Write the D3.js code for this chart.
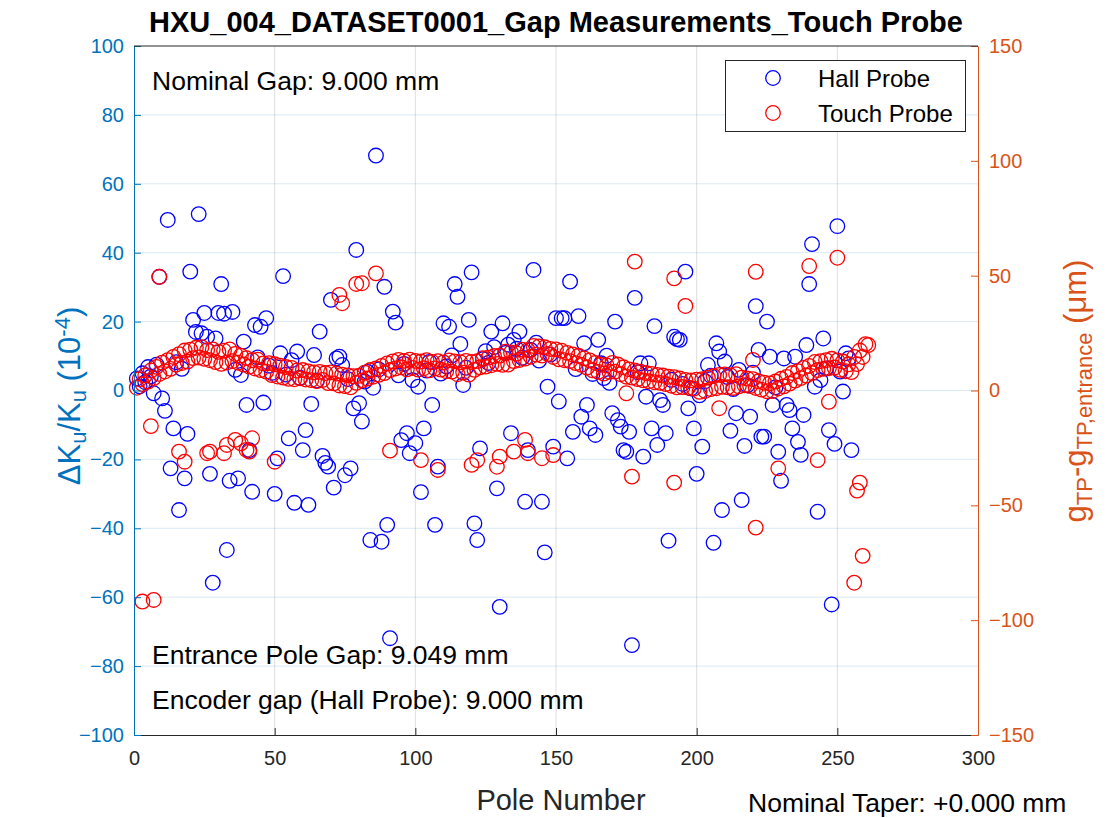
<!DOCTYPE html>
<html>
<head>
<meta charset="utf-8">
<script src="https://cdn.jsdelivr.net/npm/d3@7"></script>
<style>
  body { margin: 0; background: #fff; }
  svg { display: block; }
  text { font-family: "Liberation Sans", Arial, Helvetica, sans-serif; }
</style>
</head>
<body>
<svg id="chart" width="1110" height="818"></svg>
<script>
// Hall probe: ΔKu/Ku (1e-4) for poles 1..255 (index + 1 = pole number)
const hallDK = [
  3.5, 1.2, 5.0, 2.4, 6.8, 4.1, -0.8, 7.5, 33.0, -2.3,
  -5.9, 49.5, -22.6, -11.0, 8.2, -34.7, 6.3, -25.5, -12.6, 34.5,
  20.5, 17.0, 51.2, 16.6, 22.5, 15.6, -24.2, -55.8, 15.1, 22.5,
  30.9, 22.3, -46.3, -26.2, 22.8, 6.0, -25.5, 4.5, 14.2, -4.2,
  -17.3, -29.4, 19.0, 9.6, 18.5, -3.5, 21.0, 7.2, 5.1, -30.0,
  -19.7, 10.8, 33.2, 4.6, -13.9, 8.8, -32.6, 11.3, 3.7, -17.3,
  -11.5, -33.2, -3.9, 10.3, 2.9, 17.1, -19.0, -21.0, -22.1, 26.3,
  -28.2, 9.3, 9.8, 7.4, -24.6, 3.3, -22.6, -5.2, 40.8, -3.7,
  -9.0, 2.6, 5.4, -43.4, 0.8, 68.2, 6.1, -43.9, 30.1, -39.0,
  -71.9, 22.9, 19.7, 4.4, -14.4, 7.7, -12.4, -18.2, 3.0, -15.3,
  1.1, -29.5, -11.0, 5.8, 8.3, -4.2, -39.0, -22.1, 4.9, 19.5,
  7.0, 18.5, 10.2, 30.9, 27.2, 13.5, 1.6, 6.6, 20.5, 34.3,
  -38.6, -43.4, -16.8, 9.1, 11.4, 8.0, 17.1, 12.6, -28.4, -62.8,
  19.5, 10.9, 13.3, -12.4, 14.7, 12.1, 17.1, 9.5, -32.3, -17.3,
  11.8, 35.0, 13.9, 8.7, -32.3, -47.0, 1.1, 10.4, -16.3, 21.0,
  -3.2, 21.0, 21.0, -19.7, 31.6, -12.0, 6.2, 21.6, -7.6, 13.7,
  -4.2, -11.0, 4.8, -12.9, 14.7, 7.9, 3.6, 10.1, 2.2, -6.6,
  20.0, -8.6, -10.5, -17.3, -17.8, -12.0, -73.9, 26.9, 5.3, 7.9,
  -19.2, -1.8, 7.9, -11.0, 18.7, -15.8, -2.8, -4.2, -12.4, -43.6,
  3.1, 15.6, 14.9, 14.7, 1.9, 34.5, -5.2, 0.6, -11.0, -24.2,
  -1.4, -16.3, 2.7, 7.4, 4.3, -44.2, 13.7, 11.3, -34.7, 8.4,
  3.9, -11.7, 0.4, -6.6, 6.0, -31.8, -16.1, 1.5, -7.6, 5.2,
  24.5, 11.8, -13.4, -13.4, 20.0, 9.8, -4.2, 0.9, -17.8, -26.2,
  9.3, -4.2, -5.7, -11.0, 9.8, -14.9, -18.7, -7.1, 13.2, 30.9,
  42.5, 1.1, -35.2, 3.0, 15.1, 6.4, -11.5, -62.1, -15.5, 47.7,
  5.5, -0.3, 10.8, 9.3, -17.3
];

// Touch probe: g_TP - g_TP,entrance (µm) for poles 1..261 (index + 1 = pole number)
const touchGap = [
  1.2, 4.9, 2.8, 6.6, 3.9, 8.7, 5.4, 10.3, 7.2, 12.1,
  8.3, 13.2, 9.4, 14.6, 11.3, 15.8, 12.0, 17.4, 12.6, 17.8,
  14.1, 18.6, 14.4, 18.9, 13.8, 17.6, 13.2, 17.9, 12.4, 16.8,
  11.6, 17.3, 12.2, 17.9, 12.8, 15.9, 12.1, 15.2, 11.3, 14.1,
  10.4, 13.2, 9.6, 13.4, 8.9, 11.8, 8.2, 11.9, 6.7, 11.4,
  6.1, 10.8, 5.6, 10.2, 5.1, 9.8, 4.9, 8.7, 5.3, 8.9,
  4.8, 8.3, 4.5, 7.9, 4.1, 8.1, 4.6, 7.6, 3.2, 7.9,
  3.1, 7.4, 2.2, 6.9, 1.9, 6.6, 1.4, 6.2, 3.3, 6.4,
  4.4, 7.8, 5.2, 8.9, 6.0, 9.6, 6.8, 10.7, 7.6, 11.8,
  8.9, 12.7, 9.6, 13.3, 10.1, 12.9, 9.2, 13.4, 9.8, 12.9,
  9.1, 12.6, 9.7, 13.2, 8.8, 12.4, 9.6, 12.8, 9.1, 12.2,
  8.4, 13.1, 8.2, 12.7, 7.1, 12.3, 7.8, 12.9, 6.9, 12.4,
  9.0, 12.8, 10.1, 14.1, 10.4, 14.3, 11.0, 15.0, 11.6, 15.2,
  11.2, 16.9, 11.3, 16.6, 12.8, 16.1, 13.3, 17.8, 13.9, 17.6,
  14.7, 19.4, 15.6, 19.2, 15.2, 18.8, 15.9, 18.1, 14.6, 17.9,
  13.6, 17.3, 13.2, 16.4, 12.8, 15.7, 11.9, 15.1, 11.2, 14.0,
  10.0, 13.1, 8.8, 12.0, 8.1, 11.2, 7.4, 10.9, 8.1, 12.0,
  8.2, 11.3, 7.1, 10.1, 6.0, 9.2, 5.6, 8.7, 5.0, 8.2,
  4.4, 7.6, 4.0, 7.2, 3.6, 6.8, 3.3, 6.5, 2.8, 6.0,
  2.1, 5.8, 1.4, 5.2, 1.5, 4.6, 1.2, 4.4, 0.8, 4.7,
  -0.6, 4.9, -0.2, 5.6, 0.6, 6.3, 1.0, 6.8, 1.6, 7.0,
  1.4, 6.6, 1.1, 7.1, 1.8, 5.6, 2.3, 5.2, 1.9, 4.9,
  1.1, 4.0, 0.4, 3.4, -0.3, 3.1, -0.2, 3.9, 0.9, 5.1,
  1.8, 5.9, 3.0, 7.6, 4.3, 8.4, 5.4, 9.8, 6.5, 10.7,
  7.6, 12.4, 8.9, 12.8, 9.4, 13.2, 9.7, 13.8, 10.0, 13.1,
  9.0, 12.6, 8.4, 11.4, 8.0, 14.6, 11.5, 17.4, 14.6, 20.2,
  19.8
];

// Additional touch probe readings away from the main trend
const touchExtraPole = [
  3, 7, 9, 6, 16, 18, 26, 27, 32, 33, 36, 38, 40, 41, 42, 50,
  73, 74, 79, 81, 86, 91, 102, 108, 120, 122, 129, 130, 135, 139,
  140, 145, 149, 175, 177, 178, 192, 192, 196, 208, 220, 221, 221,
  229, 240, 243, 247, 250, 256, 257, 258, 259
];
const touchExtraGap = [
  -91.9, -91.2, 49.5, -15.5, -26.6, -31.0, -27.3, -26.6, -27.3, -23.7, -21.5, -23.0, -25.9, -26.6, -20.8, -31.0,
  41.6, 38.0, 46.4, 46.7, 51.0, -26.2, -30.3, -34.6, -32.4, -30.3, -33.2, -28.8, -26.6, -21.5,
  -27.3, -29.5, -28.1, -1.2, -37.5, 56.1, -40.1, 48.8, 36.8, -7.7, 13.3, 51.7, -59.7,
  -33.9, 54.2, -30.3, -4.9, 57.8, -83.7, -43.6, -40.1, -72.0
];

const xTicks = [0, 50, 100, 150, 200, 250, 300];
const leftTicks = [-100, -80, -60, -40, -20, 0, 20, 40, 60, 80, 100];
const rightTicks = [-150, -100, -50, 0, 50, 100, 150];

const titleText = "HXU_004_DATASET0001_Gap Measurements_Touch Probe";
const notes = [
  { text: "Nominal Gap: 9.000 mm", row: "top" },
  { text: "Entrance Pole Gap: 9.049 mm", row: "mid" },
  { text: "Encoder gap (Hall Probe): 9.000 mm", row: "low" }
];
const taperText = "Nominal Taper: +0.000 mm";
const seriesNames = ["Hall Probe", "Touch Probe"];

const leftColor = "#0072BD";
const rightColor = "#D95319";
const axisDark = "#262626";

const svg = d3.select("#chart");
const L = 134, R = 978, T = 46, B = 735;

const x = d3.scaleLinear().domain([0, 300]).range([L, R]);
const yL = d3.scaleLinear().domain([-100, 100]).range([B, T]);
const yR = d3.scaleLinear().domain([-150, 150]).range([B, T]);

// grid
const grid = svg.append("g");
grid.selectAll("line.gx").data(xTicks.slice(1, -1)).join("line")
  .attr("x1", d => x(d)).attr("x2", d => x(d)).attr("y1", T).attr("y2", B)
  .attr("stroke", axisDark).attr("stroke-opacity", 0.15).attr("stroke-width", 1);
grid.selectAll("line.gy").data(leftTicks.slice(1, -1)).join("line")
  .attr("x1", L).attr("x2", R).attr("y1", d => yL(d)).attr("y2", d => yL(d))
  .attr("stroke", leftColor).attr("stroke-opacity", 0.15).attr("stroke-width", 1);

// markers
const plot = svg.append("g");
plot.selectAll("circle.hall").data(hallDK).join("circle")
  .attr("class", "hall")
  .attr("cx", (d, i) => x(i + 1)).attr("cy", d => yL(d)).attr("r", 7.3)
  .attr("fill", "none").attr("stroke", "#0000FF").attr("stroke-width", 1.3);

const touchPts = touchGap.map((g, i) => ({ p: i + 1, g }))
  .concat(touchExtraPole.map((p, i) => ({ p, g: touchExtraGap[i] })));
plot.selectAll("circle.touch").data(touchPts).join("circle")
  .attr("class", "touch")
  .attr("cx", d => x(d.p)).attr("cy", d => yR(d.g)).attr("r", 7.3)
  .attr("fill", "none").attr("stroke", "#FF0000").attr("stroke-width", 1.3);

// axes
const tickFont = 20;
const gx = svg.append("g").attr("transform", `translate(0,${B})`)
  .call(d3.axisBottom(x).tickValues(xTicks).tickSizeInner(-7).tickSizeOuter(0).tickPadding(16));
gx.select(".domain").attr("stroke", axisDark);
gx.selectAll(".tick line").attr("stroke", axisDark);
gx.selectAll("text").attr("fill", axisDark).style("font-size", tickFont + "px").attr("font-family", null);

const gl = svg.append("g").attr("transform", `translate(${L},0)`)
  .call(d3.axisLeft(yL).tickValues(leftTicks).tickSizeInner(-7).tickSizeOuter(0).tickPadding(10));
gl.select(".domain").attr("stroke", leftColor);
gl.selectAll(".tick line").attr("stroke", leftColor);
gl.selectAll("text").attr("fill", leftColor).style("font-size", tickFont + "px").attr("font-family", null);

const gr = svg.append("g").attr("transform", `translate(${R},0)`)
  .call(d3.axisRight(yR).tickValues(rightTicks).tickSizeInner(-7).tickSizeOuter(0).tickPadding(11));
gr.select(".domain").attr("stroke", rightColor);
gr.selectAll(".tick line").attr("stroke", rightColor);
gr.selectAll("text").attr("fill", rightColor).style("font-size", tickFont + "px").attr("font-family", null);

// top frame edge
svg.append("line").attr("x1", L).attr("x2", R).attr("y1", T).attr("y2", T)
  .attr("stroke", axisDark).attr("stroke-width", 1);

// title
svg.append("text").attr("x", (L + R) / 2).attr("y", 32).attr("text-anchor", "middle")
  .style("font-size", "29px").style("font-weight", "bold").attr("fill", "#000").text(titleText);

// x label
svg.append("text").attr("x", 561).attr("y", 810).attr("text-anchor", "middle")
  .style("font-size", "29px").attr("fill", axisDark).text("Pole Number");

// left y label
const ylab = svg.append("text").attr("transform", `translate(80,396) rotate(-90)`)
  .attr("text-anchor", "middle").style("font-size", "31px").attr("fill", leftColor);
ylab.append("tspan").text("\u0394K");
ylab.append("tspan").attr("baseline-shift", "-25%").style("font-size", "22px").text("u");
ylab.append("tspan").text("/K");
ylab.append("tspan").attr("baseline-shift", "-25%").style("font-size", "22px").text("u");
ylab.append("tspan").text(" (10");
ylab.append("tspan").attr("baseline-shift", "45%").style("font-size", "22px").text("-4");
ylab.append("tspan").text(")");

// right y label
const rlab = svg.append("text").attr("transform", `translate(1086,391) rotate(-90)`)
  .attr("text-anchor", "middle").style("font-size", "31px").attr("fill", rightColor);
rlab.append("tspan").text("g");
rlab.append("tspan").attr("baseline-shift", "-25%").style("font-size", "22px").text("TP");
rlab.append("tspan").text("-g");
rlab.append("tspan").attr("baseline-shift", "-25%").style("font-size", "22px").text("TP,entrance");
rlab.append("tspan").text(" (\u03BCm)");

// annotations
const noteY = { top: 90, mid: 664, low: 709 };
svg.selectAll("text.note").data(notes).join("text")
  .attr("class", "note").attr("x", 152).attr("y", d => noteY[d.row])
  .style("font-size", "26.5px").attr("fill", "#000").text(d => d.text);
svg.append("text").attr("x", 748).attr("y", 812)
  .style("font-size", "26.5px").attr("fill", "#000").text(taperText);

// legend
const lg = svg.append("g");
lg.append("rect").attr("x", 725.5).attr("y", 60.5).attr("width", 240).attr("height", 71)
  .attr("fill", "#fff").attr("stroke", axisDark).attr("stroke-width", 1);
const legendColors = ["#0000FF", "#FF0000"];
seriesNames.forEach((name, i) => {
  const cy = 78 + i * 35;
  lg.append("circle").attr("cx", 773).attr("cy", cy).attr("r", 7.3)
    .attr("fill", "none").attr("stroke", legendColors[i]).attr("stroke-width", 1.3);
  lg.append("text").attr("x", 818).attr("y", cy + 8.5).style("font-size", "24px")
    .attr("fill", "#000").text(name);
});
</script>
</body>
</html>
